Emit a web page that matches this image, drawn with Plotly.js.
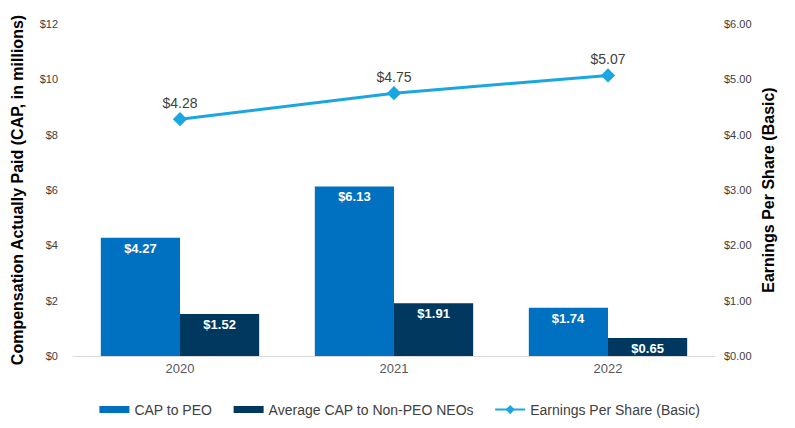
<!DOCTYPE html>
<html>
<head>
<meta charset="utf-8">
<script src="https://cdn.plot.ly/plotly-3.0.1.min.js"></script>
<style>
  html, body { margin: 0; padding: 0; background: #fff; }
  #chart { width: 795px; height: 428px; }
</style>
</head>
<body>
<div id="chart"></div>
<script>
// Compensation actually paid vs. earnings per share, by fiscal year
const years = ["2020", "2021", "2022"];
const capPeo = [4.27, 6.13, 1.74];          // $ millions
const capNonPeo = [1.52, 1.91, 0.65];       // $ millions
const eps = [4.28, 4.75, 5.07];             // $ per share

const leftTicks = [0, 2, 4, 6, 8, 10, 12];
const rightTicks = [0, 1, 2, 3, 4, 5, 6];

const PEO_COLOR = "#0070C0";
const NEO_COLOR = "#00385F";
const EPS_COLOR = "#1AA7E1";
const FONT = "Liberation Sans, Arial, sans-serif";

const money2 = v => "$" + v.toFixed(2);
// non-breaking spaces widen the gap after a legend label
const pad = s => s + "\u00a0\u00a0\u00a0";

const barLabelFont = { family: FONT, size: 13, color: "#ffffff", weight: "bold" };

const traces = [
  {
    type: "bar",
    name: "CAP to PEO",
    x: years,
    y: capPeo,
    marker: { color: PEO_COLOR },
    text: capPeo.map(money2),
    textposition: "inside",
    insidetextanchor: "end",
    constraintext: "none",
    textfont: barLabelFont,
    showlegend: false,
    hoverinfo: "none"
  },
  {
    type: "bar",
    name: "Average CAP to Non-PEO NEOs",
    x: years,
    y: capNonPeo,
    marker: { color: NEO_COLOR },
    text: capNonPeo.map(money2),
    textposition: "inside",
    insidetextanchor: "end",
    constraintext: "none",
    textfont: barLabelFont,
    showlegend: false,
    hoverinfo: "none"
  },
  {
    type: "scatter",
    mode: "lines+markers+text",
    name: "Earnings Per Share (Basic)",
    x: years,
    y: eps,
    yaxis: "y2",
    line: { color: EPS_COLOR, width: 3 },
    marker: { symbol: "diamond", size: 11, color: EPS_COLOR },
    text: eps.map(money2),
    textposition: "top center",
    textfont: { family: FONT, size: 14, color: "#404040" },
    cliponaxis: false,
    showlegend: false,
    hoverinfo: "none"
  },
  // Legend entries: wide colour swatches for the bars, line+diamond for EPS
  {
    type: "scatter", mode: "lines", name: pad("CAP to PEO"),
    x: [null], y: [null],
    line: { color: PEO_COLOR, width: 7 },
    hoverinfo: "none"
  },
  {
    type: "scatter", mode: "lines", name: pad("Average CAP to Non-PEO NEOs"),
    x: [null], y: [null],
    line: { color: NEO_COLOR, width: 7 },
    hoverinfo: "none"
  },
  {
    type: "scatter", mode: "lines+markers", name: "Earnings Per Share (Basic)",
    x: [null], y: [null], yaxis: "y2",
    line: { color: EPS_COLOR, width: 2 },
    marker: { symbol: "diamond", size: 7, color: EPS_COLOR },
    hoverinfo: "none"
  }
];

const layout = {
  width: 795,
  height: 428,
  margin: { l: 73, r: 80, t: 24, b: 72 },
  paper_bgcolor: "#ffffff",
  plot_bgcolor: "#ffffff",
  font: { family: FONT, color: "#404040" },
  barmode: "group",
  bargap: 0.26,
  bargroupgap: 0,
  showlegend: true,
  legend: {
    orientation: "h",
    xref: "container", x: 0.503, xanchor: "center",
    yref: "container", y: 0.042, yanchor: "middle",
    font: { family: FONT, size: 14, color: "#404040" },
    traceorder: "normal",
    itemwidth: 30
  },
  xaxis: {
    type: "category",
    showline: true,
    linecolor: "#d9d9d9",
    linewidth: 1,
    ticks: "",
    tickfont: { size: 13, color: "#595959" },
    showgrid: false,
    zeroline: false
  },
  yaxis: {
    range: [0, 12],
    tickvals: leftTicks,
    ticktext: leftTicks.map(v => "$" + v),
    tickfont: { size: 11, color: "#404040" },
    showgrid: false,
    zeroline: false,
    ticks: "",
    ticklabelstandoff: 14,
    title: {
      text: "<b>Compensation Actually Paid (CAP, in millions)</b>",
      font: { size: 16, color: "#000000" },
      standoff: 12
    }
  },
  yaxis2: {
    overlaying: "y",
    side: "right",
    range: [0, 6],
    tickvals: rightTicks,
    ticktext: rightTicks.map(v => "$" + v.toFixed(2)),
    tickfont: { size: 11, color: "#404040" },
    showgrid: false,
    zeroline: false,
    ticks: "",
    ticklabelstandoff: 8,
    title: {
      text: "<b>Earnings Per Share (Basic)</b>",
      font: { size: 16, color: "#000000" },
      standoff: 12
    }
  }
};

Plotly.newPlot("chart", traces, layout, { displayModeBar: false, staticPlot: true });
</script>
</body>
</html>
